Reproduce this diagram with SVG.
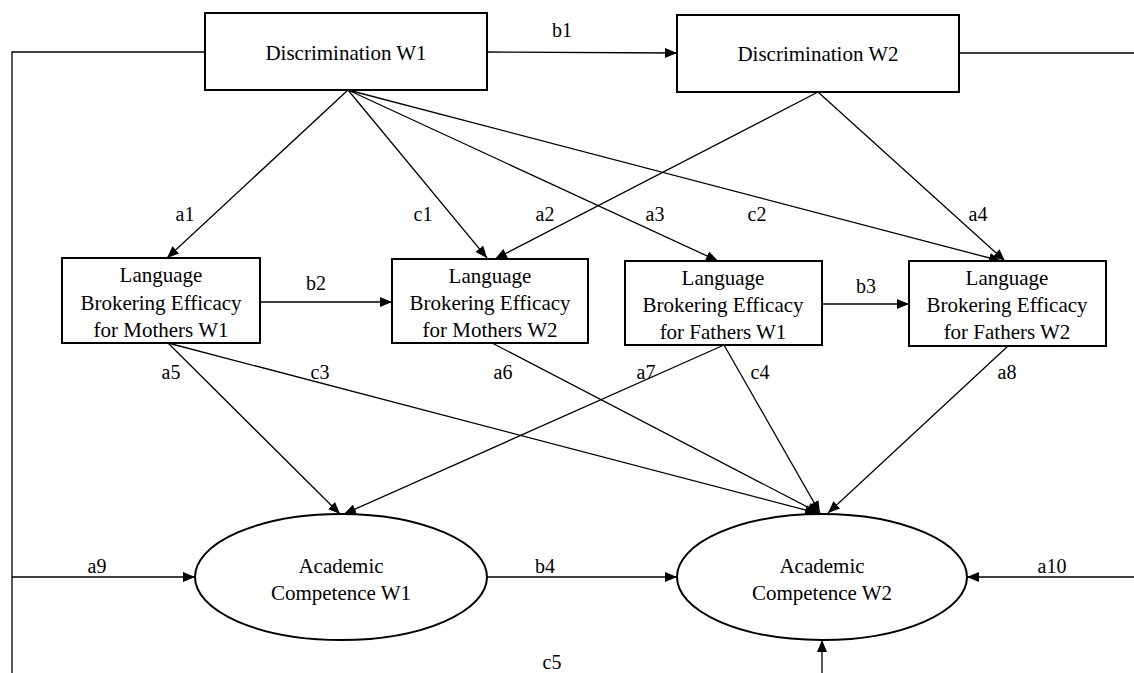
<svg xmlns="http://www.w3.org/2000/svg" width="1134" height="673" viewBox="0 0 1134 673">
<defs>
<marker id="arr" viewBox="0 0 12 10" refX="12" refY="5" markerWidth="12" markerHeight="10" orient="auto" markerUnits="userSpaceOnUse"><path d="M0,0 L12,5 L0,10 z" fill="#000"/></marker>
<style>
.box{fill:#fff;stroke:#000;stroke-width:2}
.t{font-family:'Liberation Serif','Tinos','Times New Roman','Noto Serif','DejaVu Serif',serif;font-size:21px;fill:#000;text-anchor:middle}
.l{font-family:'Liberation Serif','Tinos','Times New Roman','Noto Serif','DejaVu Serif',serif;font-size:20px;fill:#000;text-anchor:middle}
.c{fill:none;stroke:#000;stroke-width:1.3}
.a{fill:none;stroke:#000;stroke-width:1.3;marker-end:url(#arr)}
</style>
</defs>
<rect width="1134" height="673" fill="#fff"/>
<g id="connectors">
<polyline class="c" points="205,52 12,52 12,673"/>
<line class="c" x1="959" y1="53" x2="1134" y2="53"/>
<line class="a" x1="487" y1="52" x2="677" y2="53"/>
<line class="a" x1="12" y1="577" x2="195" y2="577"/>
<line class="a" x1="1134" y1="577" x2="967" y2="577"/>
<line class="a" x1="822" y1="673" x2="822" y2="640"/>
<line class="a" x1="487" y1="577" x2="677" y2="577"/>
<line class="a" x1="348" y1="90" x2="167" y2="258"/>
<line class="a" x1="348" y1="90" x2="487" y2="258"/>
<line class="a" x1="348" y1="90" x2="718" y2="261"/>
<line class="a" x1="348" y1="90" x2="1001" y2="261"/>
<line class="a" x1="818" y1="92" x2="495" y2="259"/>
<line class="a" x1="818" y1="92" x2="1005" y2="261"/>
<line class="a" x1="260" y1="302" x2="392" y2="302"/>
<line class="a" x1="822" y1="304" x2="909" y2="304"/>
<line class="a" x1="168" y1="343" x2="340" y2="514"/>
<line class="a" x1="168" y1="343" x2="817" y2="513"/>
<line class="a" x1="492" y1="343" x2="819" y2="513"/>
<line class="a" x1="724" y1="345" x2="344" y2="514"/>
<line class="a" x1="724" y1="345" x2="820" y2="513"/>
<line class="a" x1="1008" y1="346" x2="828" y2="513"/>
</g>
<g id="labels">
<text class="l" x="562" y="37">b1</text>
<text class="l" x="185" y="221">a1</text>
<text class="l" x="423" y="221">c1</text>
<text class="l" x="545" y="221">a2</text>
<text class="l" x="655" y="221">a3</text>
<text class="l" x="757" y="221">c2</text>
<text class="l" x="978" y="221">a4</text>
<text class="l" x="316" y="290">b2</text>
<text class="l" x="866" y="293">b3</text>
<text class="l" x="171" y="379">a5</text>
<text class="l" x="320" y="379">c3</text>
<text class="l" x="503" y="379">a6</text>
<text class="l" x="646" y="379">a7</text>
<text class="l" x="760" y="379">c4</text>
<text class="l" x="1007" y="379">a8</text>
<text class="l" x="97" y="573">a9</text>
<text class="l" x="545" y="573">b4</text>
<text class="l" x="1052" y="573">a10</text>
<text class="l" x="552" y="669">c5</text>
</g>
<g id="disc-w1">
<rect class="box" x="205" y="13" width="282" height="77"/>
<text class="t" x="346" y="60">Discrimination W1</text>
</g>
<g id="disc-w2">
<rect class="box" x="677" y="15" width="282" height="77"/>
<text class="t" x="818" y="61">Discrimination W2</text>
</g>
<g id="lbe-m-w1">
<rect class="box" x="62" y="258" width="198" height="85"/>
<text class="t" x="161" y="282">Language</text>
<text class="t" x="161" y="310">Brokering Efficacy</text>
<text class="t" x="161" y="337">for Mothers W1</text>
</g>
<g id="lbe-m-w2">
<rect class="box" x="392" y="259" width="196" height="84"/>
<text class="t" x="490" y="283">Language</text>
<text class="t" x="490" y="310">Brokering Efficacy</text>
<text class="t" x="490" y="337">for Mothers W2</text>
</g>
<g id="lbe-f-w1">
<rect class="box" x="625" y="261" width="197" height="84"/>
<text class="t" x="723" y="285">Language</text>
<text class="t" x="723" y="312">Brokering Efficacy</text>
<text class="t" x="723" y="339">for Fathers W1</text>
</g>
<g id="lbe-f-w2">
<rect class="box" x="909" y="261" width="197" height="85"/>
<text class="t" x="1007" y="285">Language</text>
<text class="t" x="1007" y="312">Brokering Efficacy</text>
<text class="t" x="1007" y="339">for Fathers W2</text>
</g>
<g id="ac-w1">
<ellipse class="box" cx="341" cy="577" rx="146" ry="63"/>
<text class="t" x="341" y="573">Academic</text>
<text class="t" x="341" y="600">Competence W1</text>
</g>
<g id="ac-w2">
<ellipse class="box" cx="822" cy="577" rx="145" ry="63"/>
<text class="t" x="822" y="573">Academic</text>
<text class="t" x="822" y="600">Competence W2</text>
</g>
</svg>
